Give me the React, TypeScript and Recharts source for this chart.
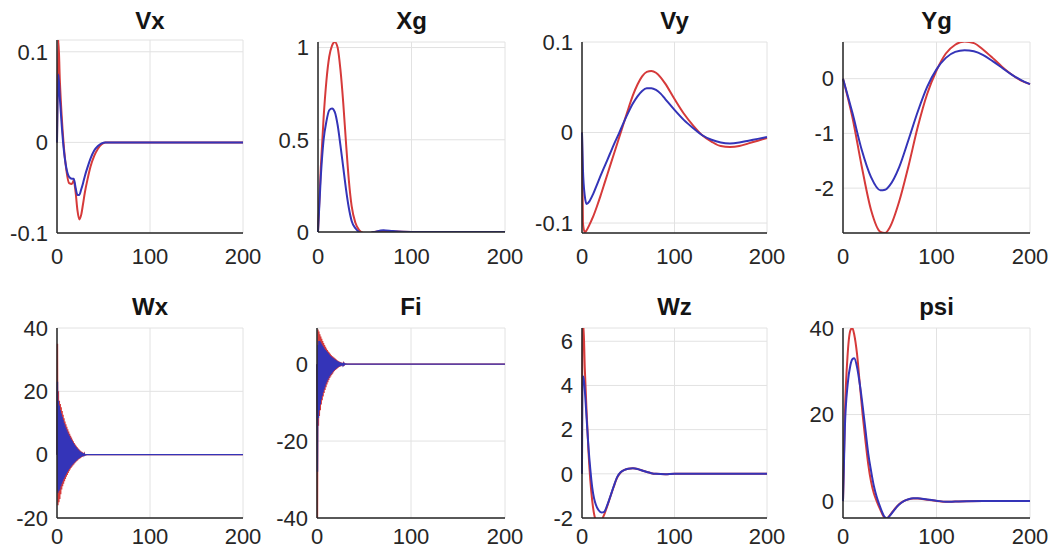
import React from 'react';
import { LineChart, Line, XAxis, YAxis, CartesianGrid } from 'recharts';

// ---- data (time axis 0..200) ----

const vxT = [0, 1.5, 3, 5, 7, 10, 13, 16, 18, 20, 22, 24, 26, 28, 30, 33, 36, 40, 44, 48, 52, 60, 100, 200];
const vxRed = [0, 0.113, 0.07, 0.03, 0.0, -0.03, -0.045, -0.046, -0.042, -0.055, -0.075, -0.085, -0.08, -0.068, -0.055, -0.04, -0.027, -0.015, -0.007, -0.002, 0, 0, 0, 0];
const vxBlue = [0, 0.075, 0.05, 0.02, -0.005, -0.028, -0.038, -0.04, -0.04, -0.05, -0.058, -0.058, -0.052, -0.045, -0.037, -0.027, -0.018, -0.009, -0.004, -0.001, 0, 0, 0, 0];

const xgT = [0, 3, 6, 9, 12, 15, 18, 21, 24, 27, 30, 33, 36, 40, 44, 48, 52, 60, 70, 80, 100, 200];
const xgRed = [0, 0.35, 0.62, 0.82, 0.95, 1.01, 1.03, 1.0, 0.88, 0.7, 0.48, 0.28, 0.14, 0.05, 0.01, -0.005, -0.01, 0.0, 0.005, 0.003, 0, 0];
const xgBlue = [0, 0.3, 0.5, 0.6, 0.66, 0.67, 0.65, 0.58, 0.47, 0.35, 0.23, 0.13, 0.06, 0.02, 0.0, -0.01, -0.01, 0.0, 0.01, 0.005, 0, 0];

const vyT = [0, 1, 3, 5, 8, 12, 16, 20, 25, 30, 35, 40, 45, 50, 55, 60, 65, 70, 75, 80, 85, 90, 100, 110, 120, 130, 140, 150, 160, 170, 180, 190, 200];
const vyRed = [0, -0.1, -0.11, -0.108, -0.102, -0.093, -0.082, -0.07, -0.054, -0.038, -0.022, -0.006, 0.01, 0.026, 0.041, 0.053, 0.062, 0.067, 0.068, 0.066, 0.061, 0.054, 0.037, 0.021, 0.008, -0.003, -0.01, -0.015, -0.016, -0.015, -0.012, -0.009, -0.006];
const vyBlue = [0, -0.04, -0.07, -0.079, -0.076, -0.068, -0.058, -0.048, -0.036, -0.024, -0.012, -0.001, 0.011, 0.022, 0.032, 0.04, 0.046, 0.049, 0.049, 0.047, 0.043, 0.037, 0.025, 0.014, 0.005, -0.003, -0.008, -0.011, -0.012, -0.011, -0.009, -0.007, -0.005];

const ygT = [0, 10, 20, 30, 40, 45, 50, 60, 70, 80, 90, 100, 110, 120, 130, 140, 150, 160, 170, 180, 190, 200];
const ygRed = [0, -0.7, -1.6, -2.4, -2.8, -2.82, -2.72, -2.25, -1.6, -0.88, -0.28, 0.15, 0.46, 0.62, 0.68, 0.65, 0.53, 0.38, 0.22, 0.08, -0.03, -0.1];
const ygBlue = [0, -0.62, -1.3, -1.8, -2.04, -2.03, -1.95, -1.62, -1.12, -0.6, -0.15, 0.17, 0.38, 0.49, 0.52, 0.5, 0.43, 0.32, 0.2, 0.08, -0.02, -0.1];

const oscT = [
  0, 0.5, 1, 1.5, 2, 2.5, 3, 3.5, 4, 4.5, 5, 5.5, 6, 6.5, 7, 7.5, 8, 8.5, 9, 9.5,
  10, 10.5, 11, 11.5, 12, 12.5, 13, 13.5, 14, 14.5, 15, 15.5, 16, 16.5, 17, 17.5, 18, 18.5, 19, 19.5,
  20, 20.5, 21, 21.5, 22, 22.5, 23, 23.5, 24, 24.5, 25, 25.5, 26, 26.5, 27, 27.5, 28, 28.5, 29, 29.5,
  30, 32, 50, 100, 150, 200,
];
const wxRed = [
  0, 35, -16, 20, -15, 17, -14, 16, -12.5, 15, -11, 13.8, -10, 12.6, -9.2, 11.5, -8.4, 10.5, -7.7, 9.6,
  -7, 8.8, -6.4, 8, -5.8, 7.3, -5.2, 6.6, -4.7, 6, -4.2, 5.4, -3.8, 4.8, -3.4, 4.2, -3.1, 3.7, -2.7, 3.2,
  -2.4, 2.8, -2.1, 2.4, -1.8, 2, -1.5, 1.7, -1.3, 1.4, -1.1, 1.1, -0.9, 0.9, -0.7, 0.7, -0.5, 0.5, -0.3, 0.3,
  -0.15, 0, 0, 0, 0, 0,
];
const wxBlue = [
  0, 23, -12, 17, -11.5, 15.5, -11, 14, -10, 13, -9.2, 12, -8.5, 11, -7.8, 10, -7.2, 9.2, -6.6, 8.4,
  -6, 7.7, -5.5, 7, -5, 6.4, -4.5, 5.8, -4.1, 5.2, -3.7, 4.7, -3.3, 4.2, -3, 3.7, -2.7, 3.2, -2.4, 2.8,
  -2.1, 2.4, -1.8, 2, -1.5, 1.7, -1.3, 1.4, -1.1, 1.1, -0.9, 0.9, -0.7, 0.7, -0.5, 0.5, -0.35, 0.35, -0.2, 0.2,
  -0.1, 0, 0, 0, 0, 0,
];
const fiRed = [
  0, -40, 9, -16, 8.5, -13.5, 7.8, -12, 7.2, -10.5, 6.6, -9.4, 6, -8.4, 5.5, -7.5, 5, -6.7, 4.5, -6,
  4.1, -5.3, 3.7, -4.7, 3.3, -4.1, 3, -3.6, 2.7, -3.2, 2.4, -2.8, 2.1, -2.5, 1.9, -2.1, 1.7, -1.8, 1.5, -1.5,
  1.3, -1.3, 1.1, -1.1, 0.9, -0.9, 0.75, -0.75, 0.6, -0.6, 0.5, -0.5, 0.4, -0.4, 0.3, -0.3, 0.2, -0.2, 0.12, -0.1,
  0.06, 0, 0, 0, 0, 0,
];
const fiBlue = [
  0, -28, 5, -14, 6, -12, 6, -10.5, 5.6, -9.2, 5.2, -8.2, 4.8, -7.3, 4.4, -6.5, 4, -5.8, 3.7, -5.1,
  3.4, -4.5, 3.1, -4, 2.8, -3.5, 2.5, -3.1, 2.2, -2.7, 2, -2.4, 1.8, -2.1, 1.6, -1.8, 1.4, -1.5, 1.2, -1.3,
  1.05, -1.1, 0.9, -0.9, 0.75, -0.75, 0.6, -0.6, 0.5, -0.5, 0.4, -0.4, 0.3, -0.3, 0.22, -0.22, 0.15, -0.15, 0.1, -0.08,
  0.05, 0, 0, 0, 0, 0,
];

const wzT = [0, 0.5, 1.5, 3, 5, 7, 9, 11, 13, 15, 18, 21, 24, 27, 30, 34, 38, 42, 46, 50, 55, 60, 65, 70, 75, 80, 90, 100, 150, 200];
const wzRed = [0, 6.8, 6.8, 4.8, 2.8, 1.0, -0.3, -1.2, -1.8, -2.1, -2.2, -2.1, -1.85, -1.5, -1.12, -0.62, -0.17, 0.07, 0.18, 0.23, 0.25, 0.22, 0.15, 0.08, 0.03, 0, -0.02, 0, 0, 0];
const wzBlue = [0, 4.4, 4.4, 3.8, 2.5, 1.2, 0.2, -0.6, -1.1, -1.4, -1.65, -1.75, -1.72, -1.45, -1.1, -0.6, -0.15, 0.08, 0.18, 0.23, 0.25, 0.22, 0.15, 0.08, 0.03, 0, -0.02, 0, 0, 0];

const psiT = [0, 2, 5, 8, 10, 12, 15, 18, 21, 24, 27, 30, 33, 36, 40, 44, 47, 50, 55, 60, 65, 70, 75, 80, 90, 100, 110, 120, 150, 200];
const psiRed = [0, 20, 34, 39.5, 40, 38.5, 34, 27, 20, 14, 8.5, 4.5, 1.8, 0, -2, -3.7, -4, -3.3, -1.9, -0.7, 0, 0.4, 0.6, 0.6, 0.3, 0.05, -0.15, -0.1, 0, 0];
const psiBlue = [0, 17, 27, 31.5, 32.8, 33, 31, 27, 22, 16.5, 11, 7, 3.5, 1, -1.5, -3.5, -4, -3.4, -2, -0.8, 0, 0.45, 0.65, 0.65, 0.35, 0.1, -0.15, -0.1, 0, 0];

const xTicks = [0, 100, 200];

const PANELS = [
  { title: 'Vx', x0: 57, x1: 243, y0: 40, y1: 233, titleY: 21, domain: [-0.1, 0.113], ticks: [-0.1, 0, 0.1], t: vxT, red: vxRed, blue: vxBlue, curve: 'monotone', gap: 9 },
  { title: 'Xg', x0: 318, x1: 505, y0: 42, y1: 232, titleY: 21, domain: [0, 1.03], ticks: [0, 0.5, 1], t: xgT, red: xgRed, blue: xgBlue, curve: 'monotone', gap: 10 },
  { title: 'Vy', x0: 582, x1: 767, y0: 42, y1: 233, titleY: 21, domain: [-0.111, 0.1], ticks: [-0.1, 0, 0.1], t: vyT, red: vyRed, blue: vyBlue, curve: 'monotone', gap: 9 },
  { title: 'Yg', x0: 843, x1: 1030, y0: 42, y1: 233, titleY: 21, domain: [-2.82, 0.67], ticks: [-2, -1, 0], t: ygT, red: ygRed, blue: ygBlue, curve: 'monotone', gap: 9 },
  { title: 'Wx', x0: 57, x1: 243, y0: 328, y1: 518, titleY: 307, domain: [-20, 40], ticks: [-20, 0, 20, 40], t: oscT, red: wxRed, blue: wxBlue, curve: 'linear', gap: 4 },
  { title: 'Fi', x0: 317, x1: 505, y0: 328, y1: 518, titleY: 307, domain: [-40, 9.4], ticks: [-40, -20, 0], t: oscT, red: fiRed, blue: fiBlue, curve: 'linear', gap: 4 },
  { title: 'Wz', x0: 582, x1: 767, y0: 328, y1: 518, titleY: 307, domain: [-2, 6.6], ticks: [-2, 0, 2, 4, 6], t: wzT, red: wzRed, blue: wzBlue, curve: 'monotone', gap: 4 },
  { title: 'psi', x0: 843, x1: 1030, y0: 328, y1: 518, titleY: 307, domain: [-3.9, 40], ticks: [0, 20, 40], t: psiT, red: psiRed, blue: psiBlue, curve: 'monotone', gap: 4 },
];

const FONT = '"Liberation Sans", Arial, sans-serif';
const AXIS = '#262626';
const RED = '#d63a3a';
const BLUE = '#3434b8';

const LEFT = 54;
const RIGHT = 24;
const TOP = 16;
const BOTTOM = 40;

const Panel = ({ p }: { p: any }) => {
  const data = p.t.map((x: number, i: number) => ({ x, red: p.red[i], blue: p.blue[i] }));
  const w = p.x1 - p.x0 + LEFT + RIGHT;
  const h = p.y1 - p.y0 + TOP + BOTTOM;
  const osc = p.curve === 'linear';
  return (
    <>
      <div
        style={{
          position: 'absolute',
          left: (p.x0 + p.x1) / 2 - 60,
          top: p.titleY - 14,
          width: 120,
          textAlign: 'center',
          fontFamily: FONT,
          fontWeight: 'bold',
          fontSize: 24,
          lineHeight: '28px',
          color: '#141414',
        }}
      >
        {p.title}
      </div>
      <div style={{ position: 'absolute', left: p.x0 - LEFT, top: p.y0 - TOP }}>
        <LineChart width={w} height={h} data={data} margin={{ top: TOP, right: RIGHT, bottom: 0, left: 0 }}>
          <CartesianGrid stroke="#e2e2e2" strokeWidth={1} />
          <XAxis
            dataKey="x"
            type="number"
            domain={[0, 200]}
            ticks={xTicks}
            height={BOTTOM}
            tickLine={false}
            tickMargin={p.gap}
            axisLine={{ stroke: AXIS, strokeWidth: 1.5 }}
            tick={{ fill: AXIS, fontSize: 22, fontFamily: FONT }}
            interval={0}
          />
          <YAxis
            type="number"
            domain={p.domain}
            ticks={p.ticks}
            allowDataOverflow
            width={LEFT}
            tickLine={false}
            tickMargin={3}
            axisLine={{ stroke: AXIS, strokeWidth: 1.5 }}
            tick={{ fill: AXIS, fontSize: 22, fontFamily: FONT }}
            interval={0}
          />
          <Line type={p.curve} dataKey="red" stroke={RED} strokeWidth={osc ? 1.4 : 2} dot={false} activeDot={false} isAnimationActive={false} />
          <Line type={p.curve} dataKey="blue" stroke={BLUE} strokeWidth={osc ? 1.4 : 2} dot={false} activeDot={false} isAnimationActive={false} />
        </LineChart>
      </div>
    </>
  );
};

export default function App() {
  return (
    <div style={{ position: 'absolute', left: 0, top: 0, width: 1056, height: 559, background: '#fff', overflow: 'hidden' }}>
      {PANELS.map((p) => (
        <Panel key={p.title} p={p} />
      ))}
    </div>
  );
}
